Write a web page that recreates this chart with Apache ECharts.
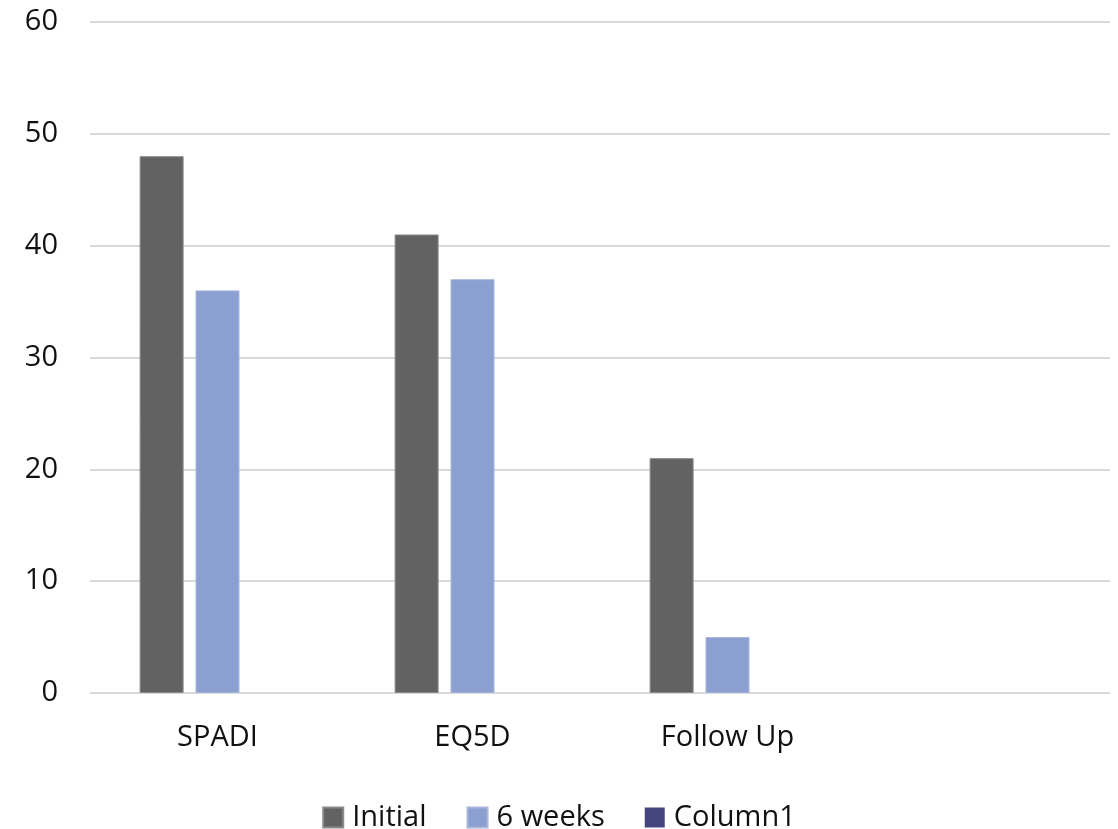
<!DOCTYPE html>
<html>
<head>
<meta charset="utf-8">
<script src="https://cdn.jsdelivr.net/npm/echarts@6/dist/echarts.min.js"></script>
<style>html,body{margin:0;padding:0;background:#fff;}#c{width:1118px;height:829px;}</style>
</head>
<body>
<div id="c"></div>
<script>
const categories = ["SPADI", "EQ5D", "Follow Up", ""];
const seriesNames = ["Initial", "6 weeks", "Column1"];
const initialValues = [48, 41, 21, null];
const sixWeeksValues = [36, 37, 5, null];
const column1Values = [null, null, null, null];
const yTicks = [0, 10, 20, 30, 40, 50, 60];

const font = "'Open Sans', 'Noto Sans', sans-serif";
const fs = 29;
const chart = echarts.init(document.getElementById('c'));
chart.setOption({
  animation: false,
  textStyle: { fontFamily: font },
  grid: { left: 90, right: 8, top: 22, bottom: 136, containLabel: false },
  legend: {
    top: 798, left: 'center',
    itemWidth: 20, itemHeight: 20, itemGap: 40,
    icon: 'rect',
    textStyle: { fontSize: fs, color: '#111', fontFamily: font, padding: [0, 0, 0, 4] },
    data: seriesNames
  },
  xAxis: {
    type: 'category', data: categories,
    axisLine: { show: false }, axisTick: { show: false },
    axisLabel: { fontSize: fs, color: '#111', margin: 30, fontFamily: font }
  },
  yAxis: {
    type: 'value', min: yTicks[0], max: yTicks[yTicks.length - 1], interval: 10,
    axisLine: { show: false }, axisTick: { show: false },
    axisLabel: { fontSize: fs, color: '#111', margin: 32, fontFamily: font },
    splitLine: { lineStyle: { color: '#d9d9d9', width: 2 } }
  },
  series: [
    { name: seriesNames[0], type: 'bar', data: initialValues, barWidth: 44, barGap: '27%',
      itemStyle: { color: '#626262', borderColor: '#8a8a8a', borderWidth: 1 } },
    { name: seriesNames[1], type: 'bar', data: sixWeeksValues, barWidth: 44, barGap: '27%',
      itemStyle: { color: '#8c9fd1', borderColor: '#a8b6de', borderWidth: 1 } },
    { name: seriesNames[2], type: 'bar', data: column1Values, barWidth: 44, barGap: '27%',
      itemStyle: { color: '#46467f' } }
  ]
});
</script>
</body>
</html>
